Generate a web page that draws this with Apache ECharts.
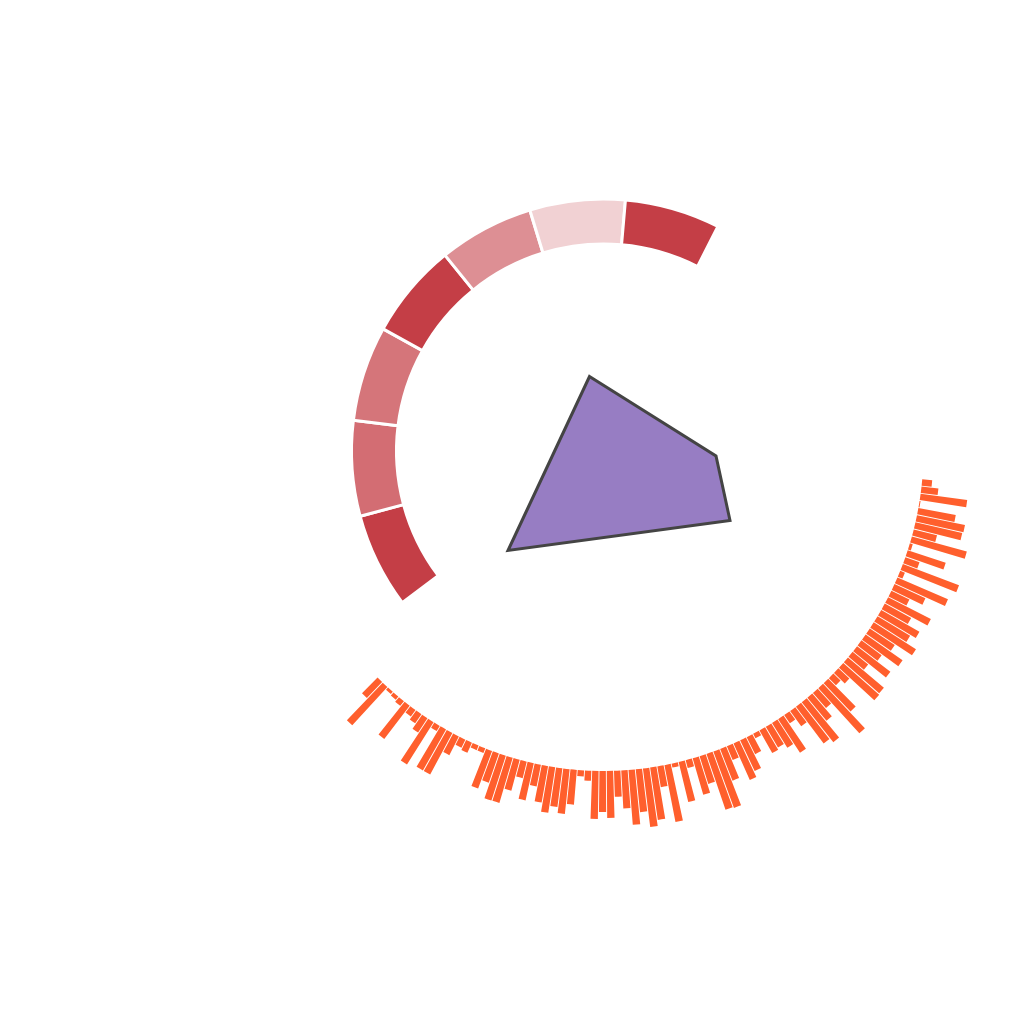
<!DOCTYPE html>
<html>
<head>
<meta charset="utf-8">
<script src="https://cdn.jsdelivr.net/npm/echarts@6/dist/echarts.min.js"></script>
<style>html,body{margin:0;padding:0;background:#fff}#main{width:1024px;height:1024px}</style>
</head>
<body>
<div id="main"></div>
<script>
// ---- Polar bar data (100 categories, read clockwise from the right) ----
const barCategories = [];
for (let i = 1; i <= 100; i++) barCategories.push('C' + i);
const barValues = [
  10, 17, 47, 1, 38, 49, 48, 24, 57, 3,
  40, 15, 60, 5, 55, 34, 20, 48, 30, 44,
  38, 50, 30, 45, 25, 42, 20, 47, 48, 15,
  10, 39, 61, 20, 30, 51, 46, 19, 10, 40,
  29, 24, 26, 5, 19, 34, 40, 15, 34, 60,
  59, 29, 38, 8, 41, 4, 58, 21, 53, 59,
  43, 55, 38, 26, 47, 41, 48, 10, 6, 35,
  45, 39, 46, 37, 22, 38, 17, 32, 47, 47,
  31, 40, 5, 5, 11, 9, 21, 47, 47, 6,
  50, 17, 11, 8, 42, 6, 4, 3, 52, 22
];

// ---- Ring (pie) data ----
const ringNames = ['A', 'B', 'C', 'D', 'E', 'F', 'G'];
const ringSizes = [1, 1, 1, 1, 1, 1, 1];
const ringLevels = [0.98, 0.74, 0.70, 0.98, 0.57, 0.23, 0.98];

// ---- Polygon data ----
const polyX = [3.58, 8.64, 9.20, 0.32];
const polyY = [7.34, 4.16, 1.58, 0.38];

const chart = echarts.init(document.getElementById('main'), null, {renderer: 'canvas'});

const ringColor = [195, 58, 66];
const pieData = ringNames.map((n, i) => ({
  name: n,
  value: ringSizes[i],
  itemStyle: {
    color: 'rgba(' + ringColor.join(',') + ',' + ringLevels[i] + ')'
  }
}));

const option = {
  animation: false,
  backgroundColor: '#ffffff',
  grid: { left: 500, top: 360, width: 250, height: 200, show: false },
  xAxis: { type: 'value', min: 0, max: 10, show: false },
  yAxis: { type: 'value', min: 0, max: 8, show: false },
  polar: { center: [603.5, 451], radius: [320, 384] },
  angleAxis: {
    type: 'category',
    data: barCategories,
    startAngle: -5,
    endAngle: -135,
    clockwise: true,
    axisLine: { show: false },
    axisTick: { show: false },
    axisLabel: { show: false },
    splitLine: { show: false }
  },
  radiusAxis: {
    type: 'value', min: 0, max: 64,
    axisLine: { show: false },
    axisTick: { show: false },
    axisLabel: { show: false },
    splitLine: { show: false }
  },
  series: [
    {
      type: 'pie',
      center: [603.5, 451],
      radius: [207, 252],
      startAngle: 217,
      endAngle: 63,
      clockwise: true,
      label: { show: false },
      labelLine: { show: false },
      emphasis: { disabled: true },
      itemStyle: { borderColor: '#ffffff', borderWidth: 3 },
      data: pieData
    },
    {
      type: 'bar',
      coordinateSystem: 'polar',
      data: barValues,
      barCategoryGap: '12%',
      itemStyle: { color: '#ff5f2d' }
    },
    {
      type: 'custom',
      coordinateSystem: 'cartesian2d',
      data: [0],
      renderItem: function (params, api) {
        const pts = polyX.map((x, i) => api.coord([x, polyY[i]]));
        return {
          type: 'polygon',
          shape: { points: pts },
          style: { fill: '#977dc3', stroke: '#444444', lineWidth: 3, lineJoin: 'miter' }
        };
      }
    }
  ]
};
chart.setOption(option);
</script>
</body>
</html>
